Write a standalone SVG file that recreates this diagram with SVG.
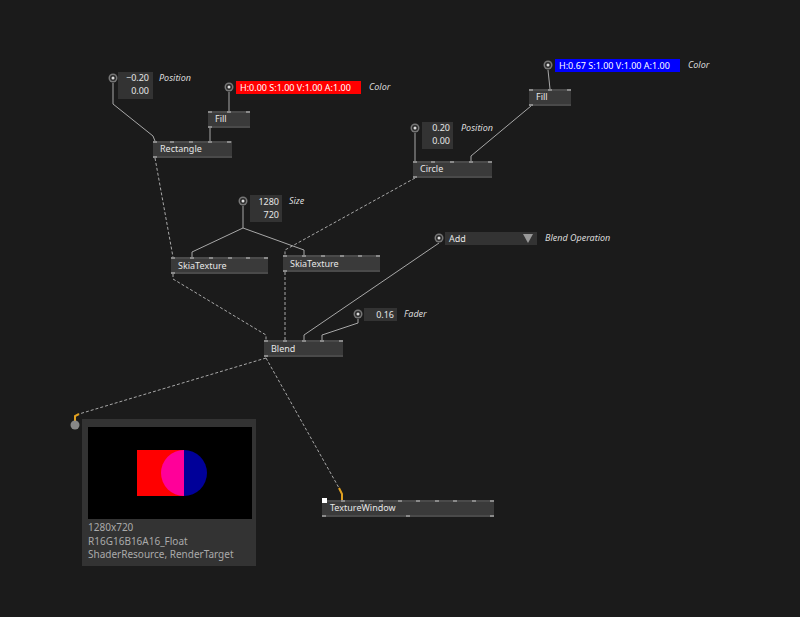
<svg xmlns="http://www.w3.org/2000/svg" width="800" height="617" viewBox="0 0 800 617">
<style>
text{font-family:"Noto Sans","DejaVu Sans",sans-serif;font-size:9px;fill:#e6e6e6}
.lbl{font-style:italic;fill:#dcdcdc}
.nb{fill:#3a3a3a}.ns{fill:#4a4a4a}.pin{fill:#8a8a8a}
.io{fill:#333}
.ln{stroke:#a8a8a8;stroke-width:1;fill:none}
.dl{stroke:#a8a8a8;stroke-width:1;fill:none;stroke-dasharray:3,2}
.or{stroke:#e0a020;stroke-width:2;fill:none}
</style>
<defs>
<g id="knob"><circle r="4.5" fill="#777"/><circle r="3" fill="#2a2a2a"/><circle r="1.5" fill="#ddd"/></g>
</defs>
<rect width="800" height="617" fill="#1b1b1b"/>
<g id="connectors">
<path class="ln" d="M113,83 V104 L153,136 L155,141"/>
<path class="ln" d="M229,92 V111"/>
<path class="ln" d="M210,128 V141"/>
<path class="dl" d="M155,158 L173,257"/>
<path class="ln" d="M243,206 V228 L192,252 V257"/>
<path class="ln" d="M243,228 L304,250 V255"/>
<path class="dl" d="M415,178 L285,250 V255"/>
<path class="ln" d="M415,133 V161"/>
<path class="ln" d="M548,70 L550,89"/>
<path class="ln" d="M531,106 L471,156 V161"/>
<path class="dl" d="M173,274 V279 L266,335 V340"/>
<path class="dl" d="M285,272 V340"/>
<path class="ln" d="M439,243 L304,335 V340"/>
<path class="ln" d="M358,319 V323 L322,335 V340"/>
<path class="dl" d="M266,358 L339,488"/>
<path class="or" d="M339,488 L342,494 V500"/>
<path class="dl" d="M266,358 L79,414"/>
<path class="or" d="M79,414 L75,416 V421"/>
</g>
<g id="position1"><use href="#knob" x="113" y="78"/><rect class="io" x="118" y="72" width="35" height="27"/><text x="149" y="81" text-anchor="end">−0.20</text><text x="149" y="94" text-anchor="end">0.00</text><text class="lbl" x="159" y="81">Position</text></g>
<g id="color1"><use href="#knob" x="229" y="87"/><rect x="236" y="81" width="125" height="13" fill="#ff0000"/><text x="240" y="91" style="fill:#fff">H:0.00 S:1.00 V:1.00 A:1.00</text><text class="lbl" x="369" y="90">Color</text></g>
<g id="fill1"><rect class="nb" x="208" y="111" width="42" height="17"/><rect class="ns" x="208" y="111" width="42" height="2"/><rect class="ns" x="208" y="126" width="42" height="2"/><rect class="pin" x="208" y="111" width="4" height="2"/><rect class="pin" x="227" y="111" width="4" height="2"/><rect class="pin" x="246" y="111" width="4" height="2"/><rect class="pin" x="208" y="126" width="4" height="2"/><text x="215" y="122">Fill</text></g>
<g id="rectangle"><rect class="nb" x="153" y="141" width="79" height="17"/><rect class="ns" x="153" y="141" width="79" height="2"/><rect class="ns" x="153" y="156" width="79" height="2"/><rect class="pin" x="153" y="141" width="4" height="2"/><rect class="pin" x="170" y="141" width="4" height="2"/><rect class="pin" x="189" y="141" width="4" height="2"/><rect class="pin" x="208" y="141" width="4" height="2"/><rect class="pin" x="227" y="141" width="4" height="2"/><rect class="pin" x="153" y="156" width="4" height="2"/><text x="160" y="152">Rectangle</text></g>
<g id="color2"><use href="#knob" x="548" y="65"/><rect x="555" y="59" width="125" height="13" fill="#0000ff"/><text x="559" y="69" style="fill:#fff">H:0.67 S:1.00 V:1.00 A:1.00</text><text class="lbl" x="688" y="68">Color</text></g>
<g id="fill2"><rect class="nb" x="529" y="89" width="42" height="17"/><rect class="ns" x="529" y="89" width="42" height="2"/><rect class="ns" x="529" y="104" width="42" height="2"/><rect class="pin" x="529" y="89" width="4" height="2"/><rect class="pin" x="548" y="89" width="4" height="2"/><rect class="pin" x="567" y="89" width="4" height="2"/><rect class="pin" x="529" y="104" width="4" height="2"/><text x="536" y="100">Fill</text></g>
<g id="position2"><use href="#knob" x="415" y="128"/><rect class="io" x="422" y="122" width="31" height="27"/><text x="450" y="131" text-anchor="end">0.20</text><text x="450" y="144" text-anchor="end">0.00</text><text class="lbl" x="461" y="131">Position</text></g>
<g id="circle"><rect class="nb" x="413" y="161" width="79" height="17"/><rect class="ns" x="413" y="161" width="79" height="2"/><rect class="ns" x="413" y="176" width="79" height="2"/><rect class="pin" x="413" y="161" width="4" height="2"/><rect class="pin" x="431" y="161" width="4" height="2"/><rect class="pin" x="450" y="161" width="4" height="2"/><rect class="pin" x="469" y="161" width="4" height="2"/><rect class="pin" x="488" y="161" width="4" height="2"/><rect class="pin" x="413" y="176" width="4" height="2"/><text x="420" y="172">Circle</text></g>
<g id="size"><use href="#knob" x="243" y="201"/><rect class="io" x="250" y="195" width="32" height="27"/><text x="279" y="205" text-anchor="end">1280</text><text x="279" y="218" text-anchor="end">720</text><text class="lbl" x="289" y="204">Size</text></g>
<g id="skia1"><rect class="nb" x="171" y="257" width="97" height="17"/><rect class="ns" x="171" y="257" width="97" height="2"/><rect class="ns" x="171" y="272" width="97" height="2"/><rect class="pin" x="171" y="257" width="4" height="2"/><rect class="pin" x="190" y="257" width="4" height="2"/><rect class="pin" x="209" y="257" width="4" height="2"/><rect class="pin" x="228" y="257" width="4" height="2"/><rect class="pin" x="246" y="257" width="4" height="2"/><rect class="pin" x="264" y="257" width="4" height="2"/><rect class="pin" x="171" y="272" width="4" height="2"/><text x="178" y="269">SkiaTexture</text></g>
<g id="skia2"><rect class="nb" x="283" y="255" width="97" height="17"/><rect class="ns" x="283" y="255" width="97" height="2"/><rect class="ns" x="283" y="270" width="97" height="2"/><rect class="pin" x="283" y="255" width="4" height="2"/><rect class="pin" x="302" y="255" width="4" height="2"/><rect class="pin" x="321" y="255" width="4" height="2"/><rect class="pin" x="340" y="255" width="4" height="2"/><rect class="pin" x="358" y="255" width="4" height="2"/><rect class="pin" x="376" y="255" width="4" height="2"/><rect class="pin" x="283" y="270" width="4" height="2"/><text x="290" y="267">SkiaTexture</text></g>
<g id="blendop"><use href="#knob" x="439" y="238"/><rect class="io" x="445" y="232" width="92" height="13"/><text x="449" y="242">Add</text><path d="M523,234 H533 L528,243 Z" fill="#999"/><text class="lbl" x="545" y="241">Blend Operation</text></g>
<g id="fader"><use href="#knob" x="358" y="314"/><rect class="io" x="364" y="308" width="33" height="13"/><text x="394" y="318" text-anchor="end">0.16</text><text class="lbl" x="404" y="317">Fader</text></g>
<g id="blend"><rect class="nb" x="264" y="340" width="79" height="17"/><rect class="ns" x="264" y="340" width="79" height="2"/><rect class="ns" x="264" y="355" width="79" height="2"/><rect class="pin" x="264" y="340" width="4" height="2"/><rect class="pin" x="283" y="340" width="4" height="2"/><rect class="pin" x="302" y="340" width="4" height="2"/><rect class="pin" x="320" y="340" width="4" height="2"/><rect class="pin" x="339" y="340" width="4" height="2"/><rect class="pin" x="264" y="355" width="4" height="2"/><text x="271" y="352">Blend</text></g>
<g id="texturewindow"><rect class="nb" x="322" y="500" width="172" height="17"/><rect class="ns" x="322" y="500" width="172" height="2"/><rect class="ns" x="322" y="515" width="172" height="2"/><rect class="pin" x="341" y="500" width="4" height="2"/><rect class="pin" x="360" y="500" width="4" height="2"/><rect class="pin" x="379" y="500" width="4" height="2"/><rect class="pin" x="398" y="500" width="4" height="2"/><rect class="pin" x="416" y="500" width="4" height="2"/><rect class="pin" x="435" y="500" width="4" height="2"/><rect class="pin" x="453" y="500" width="4" height="2"/><rect class="pin" x="472" y="500" width="4" height="2"/><rect class="pin" x="490" y="500" width="4" height="2"/><rect class="pin" x="322" y="515" width="4" height="2"/><rect class="pin" x="406" y="515" width="4" height="2"/><rect class="pin" x="490" y="515" width="4" height="2"/><rect x="322" y="498" width="5" height="5" fill="#fff"/><text x="330" y="511">TextureWindow</text></g>
<g id="preview"><circle cx="75" cy="425" r="4.5" fill="#888"/><rect x="82" y="419" width="174" height="147" fill="#333"/><rect x="88" y="427" width="164" height="92" fill="#000"/><rect x="137" y="450" width="47" height="46" fill="#ff0000"/><path d="M184,450 A23,23 0 0 1 184,496 Z" fill="#000099"/><path d="M184,450 A23,23 0 0 0 184,496 Z" fill="#ff0099"/><text x="88" y="531" style="fill:#aaa;font-size:10px">1280x720</text><text x="88" y="545" style="fill:#aaa;font-size:10px">R16G16B16A16_Float</text><text x="88" y="558" style="fill:#aaa;font-size:10px">ShaderResource, RenderTarget</text></g>
</svg>
